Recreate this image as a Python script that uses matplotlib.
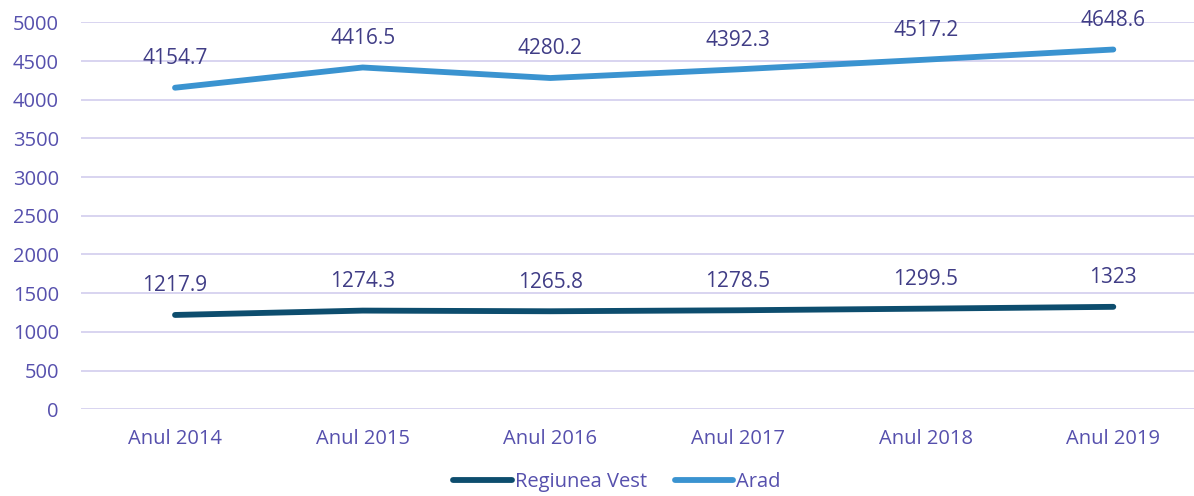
import matplotlib.pyplot as plt

# data
years = ["Anul 2014", "Anul 2015", "Anul 2016", "Anul 2017", "Anul 2018", "Anul 2019"]
regiunea_vest = [1217.9, 1274.3, 1265.8, 1278.5, 1299.5, 1323]
arad = [4154.7, 4416.5, 4280.2, 4392.3, 4517.2, 4648.6]
vest_labels = ["1217.9", "1274.3", "1265.8", "1278.5", "1299.5", "1323"]
arad_labels = ["4154.7", "4416.5", "4280.2", "4392.3", "4517.2", "4648.6"]

plt.rcParams['font.family'] = ['Open Sans', 'DejaVu Sans']

tick_color = "#5650ad"
label_color = "#403d86"

fig = plt.figure(figsize=(11.94, 4.96), dpi=100)
ax = fig.add_axes([0.068, 0.175, 0.943, 0.780])

x = list(range(len(years)))
ax.plot(x, regiunea_vest, color="#0d4d6e", lw=4.2, solid_capstyle="round", label="Regiunea Vest")
ax.plot(x, arad, color="#3a93d0", lw=4.2, solid_capstyle="round", label="Arad")

for i in x:
    ax.annotate(vest_labels[i], (i, regiunea_vest[i]), xytext=(0, 21), textcoords="offset points",
                ha="center", va="center", fontsize=15, color=label_color)
    ax.annotate(arad_labels[i], (i, arad[i]), xytext=(0, 21), textcoords="offset points",
                ha="center", va="center", fontsize=15, color=label_color)

ax.set_xlim(-0.5, len(years) - 0.5)
ax.set_ylim(0, 5000)
ax.set_yticks(range(0, 5001, 500))
ax.set_xticks(x)
ax.set_xticklabels(years)
ax.tick_params(axis="both", length=0, labelsize=14.5, colors=tick_color)
ax.tick_params(axis="x", pad=14)
ax.tick_params(axis="y", pad=16)
ax.grid(axis="y", color="#d8d4f0", lw=1.4)
ax.set_axisbelow(True)
for s in ax.spines.values():
    s.set_visible(False)

leg = ax.legend(loc="upper center", bbox_to_anchor=(0.476, -0.125), ncol=2, frameon=False,
                fontsize=14.5, handlelength=2.9, columnspacing=1.4, handletextpad=0.15,
                borderpad=0.2)
for t in leg.get_texts():
    t.set_color(tick_color)

fig.savefig("out.png", dpi=100)
